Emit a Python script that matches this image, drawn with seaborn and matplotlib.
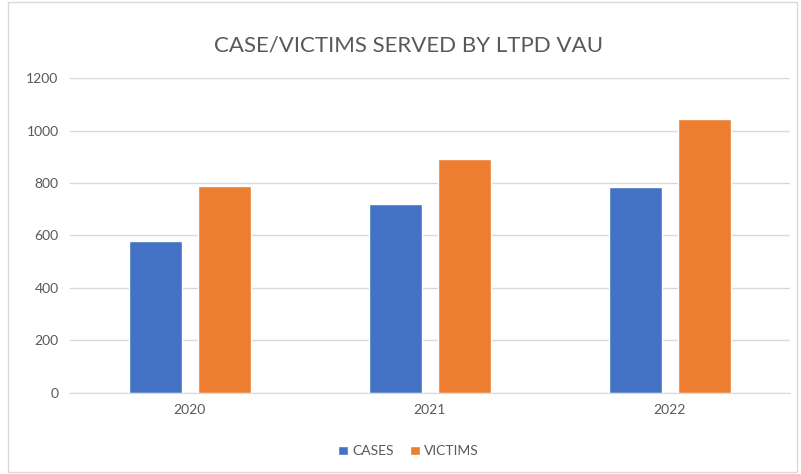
import matplotlib
matplotlib.use("Agg")
import matplotlib.pyplot as plt
import matplotlib.patches as mpatches
import seaborn as sns
import pandas as pd

# values
years = ["2020", "2021", "2022"]
cases = [580, 720, 785]
victims = [790, 890, 1043]
series_names = ["CASES", "VICTIMS"]
y_ticks = [0, 200, 400, 600, 800, 1000, 1200]

df = pd.DataFrame({
    "year": years * 2,
    "value": cases + victims,
    "series": [series_names[0]] * 3 + [series_names[1]] * 3,
})

sns.set_style("white")
plt.rcParams["font.family"] = ["Lato", "DejaVu Sans"]
text_grey = "#595959"

fig = plt.figure(figsize=(8.01, 4.74), dpi=100)
ax = fig.add_axes([0.087, 0.1715, 0.899, 0.6635])

sns.barplot(data=df, x="year", y="value", hue="series",
            palette=["#4472C4", "#ED7D31"], width=0.573, gap=0.23,
            saturation=1, ax=ax, legend=True)

ax.set_ylim(0, 1200)
ax.set_yticks(y_ticks)
ax.set_xlim(-0.5, 2.5)
ax.yaxis.grid(True, color="#D9D9D9", linewidth=1)
ax.set_axisbelow(True)
for s in ["top", "right", "left"]:
    ax.spines[s].set_visible(False)
ax.spines["bottom"].set_color("#D9D9D9")
ax.tick_params(axis="both", length=0, labelsize=10, labelcolor=text_grey, pad=8)
ax.set_xlabel("")
ax.set_ylabel("")

fig.text(0.51, 0.905, "CASE/VICTIMS SERVED BY LTPD VAU", ha="center",
         va="center", fontsize=16, color=text_grey)

handles, labels = ax.get_legend_handles_labels()
ax.legend_.remove()
fig.legend(handles, labels, loc="center", bbox_to_anchor=(0.51, 0.048),
           ncol=2, frameon=False, fontsize=10, labelcolor=text_grey,
           handlelength=0.7, handleheight=0.7, handletextpad=0.3,
           columnspacing=1.2)

# light border around the chart
fig.patches.append(mpatches.Rectangle((0.01, 0.005), 0.985, 0.99,
                                      transform=fig.transFigure, fill=False,
                                      edgecolor="#D9D9D9", linewidth=1))

fig.savefig("out.png", dpi=100)
